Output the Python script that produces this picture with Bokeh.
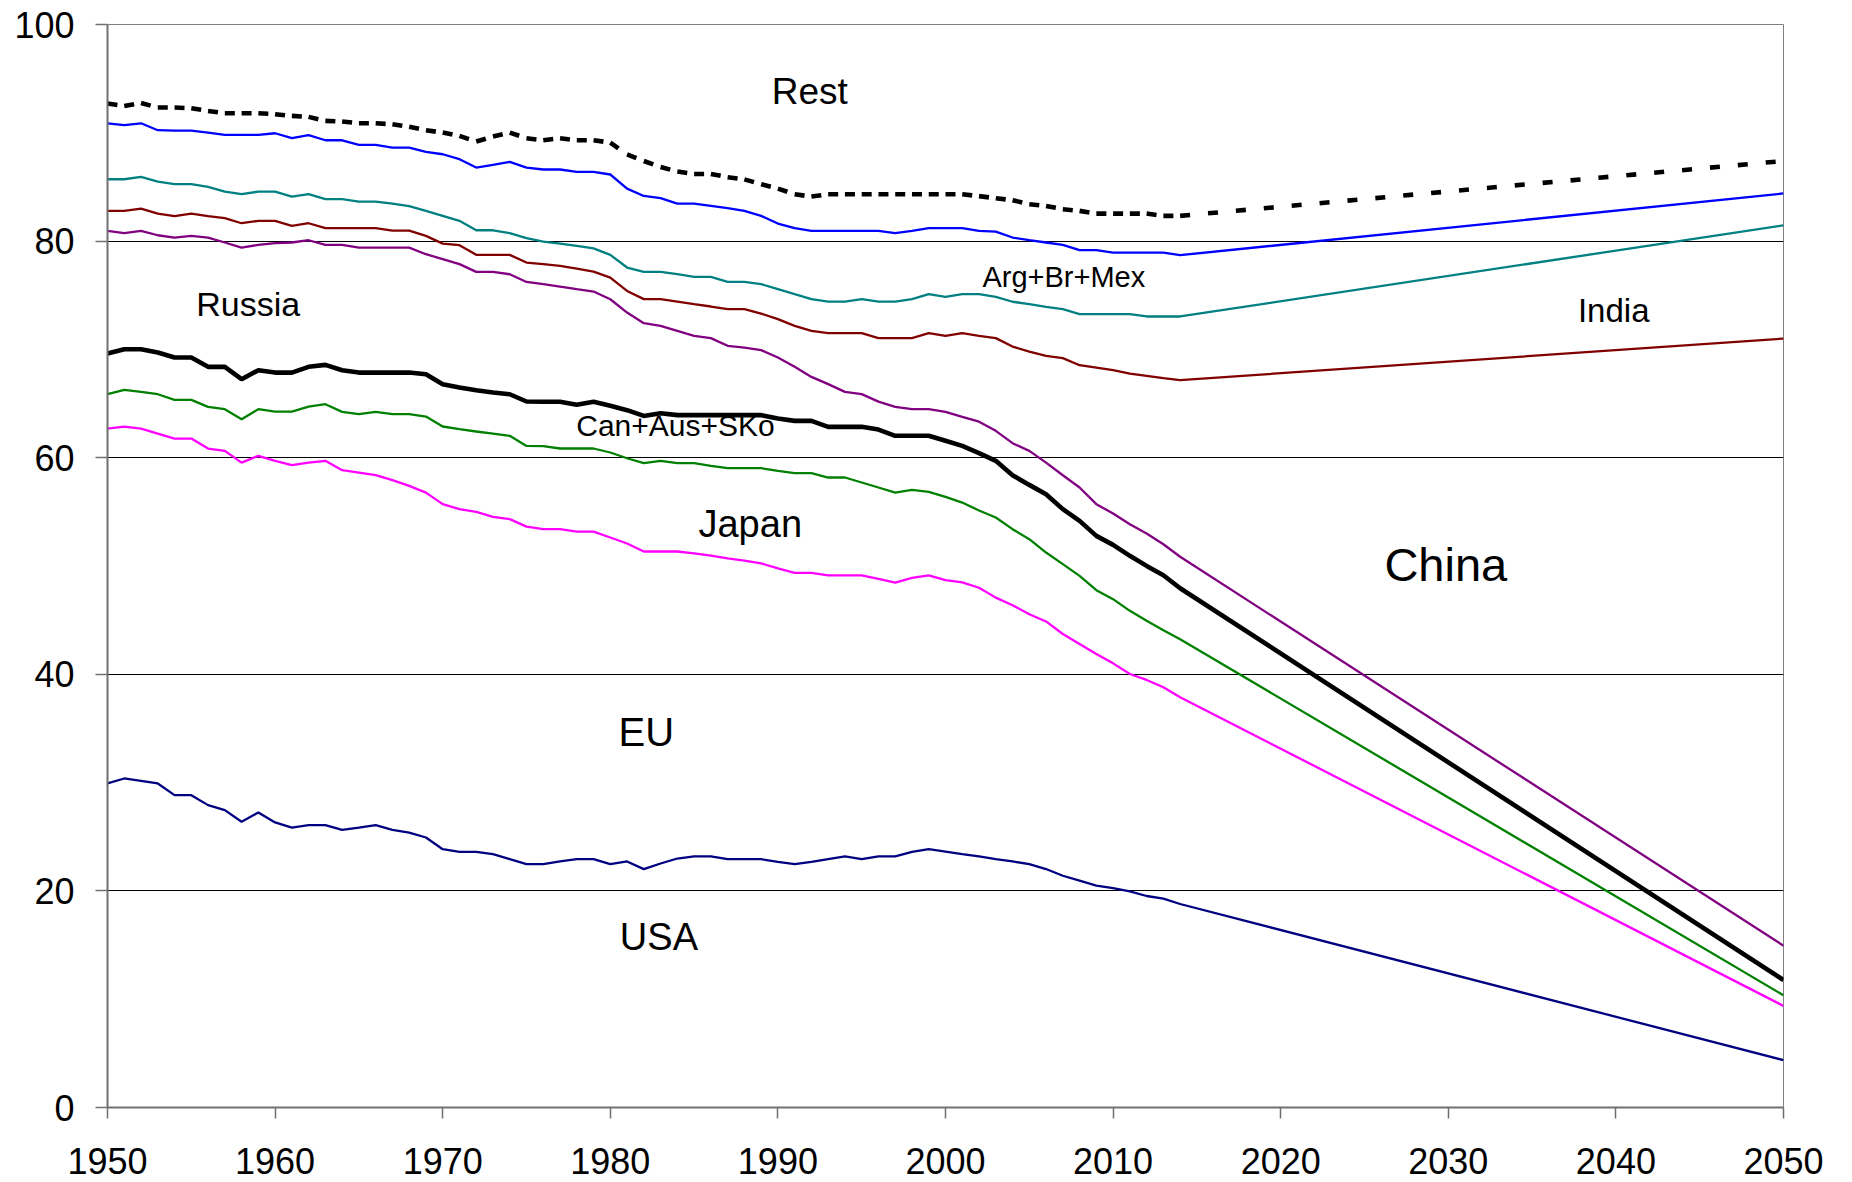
from bokeh.plotting import figure
from bokeh.models import Range1d, FixedTicker, Label, ColumnDataSource
from bokeh.embed import file_html
from bokeh.resources import INLINE

# ---------------- data ----------------
hist_years = list(range(1950, 2015))
target_year = [2050]
years = hist_years + target_year

# cumulative shares (%), top boundary of each band; last value = 2050
rest_boundary = [92.70, 92.48, 92.75, 92.33, 92.33, 92.27, 92.02, 91.81, 91.81, 91.81,
                 91.72, 91.56, 91.47, 91.10, 91.04, 90.88, 90.88, 90.79, 90.55, 90.24,
                 90.02, 89.71, 89.19, 89.65, 90.02, 89.50, 89.31, 89.50, 89.31, 89.31,
                 89.10, 88.00, 87.40, 86.85, 86.42, 86.20, 86.20, 85.90, 85.70, 85.25,
                 84.85, 84.33, 84.11, 84.33, 84.33, 84.33, 84.33, 84.33, 84.33, 84.33,
                 84.33, 84.33, 84.15, 83.96, 83.78, 83.41, 83.25, 82.94, 82.79, 82.54,
                 82.54, 82.54, 82.54, 82.33, 82.33,
                 87.40]
blue_line = [90.88, 90.70, 90.88, 90.24, 90.21, 90.21, 90.02, 89.81, 89.81, 89.81,
             89.96, 89.50, 89.78, 89.31, 89.31, 88.88, 88.88, 88.64, 88.64, 88.24,
             88.02, 87.56, 86.79, 87.04, 87.31, 86.79, 86.61, 86.61, 86.40, 86.40,
             86.15, 84.85, 84.17, 83.96, 83.46, 83.46, 83.25, 83.04, 82.79, 82.33,
             81.62, 81.19, 80.94, 80.94, 80.94, 80.94, 80.94, 80.73, 80.94, 81.19,
             81.19, 81.19, 80.94, 80.87, 80.33, 80.09, 79.87, 79.65, 79.16, 79.16,
             78.94, 78.94, 78.94, 78.94, 78.70,
             84.40]
teal_line = [85.71, 85.71, 85.93, 85.50, 85.26, 85.26, 85.00, 84.57, 84.33, 84.57,
             84.57, 84.11, 84.33, 83.87, 83.87, 83.65, 83.65, 83.46, 83.22, 82.79,
             82.33, 81.87, 81.00, 81.00, 80.73, 80.27, 79.96, 79.77, 79.56, 79.33,
             78.73, 77.56, 77.16, 77.16, 76.95, 76.70, 76.70, 76.24, 76.24, 76.03,
             75.57, 75.10, 74.64, 74.42, 74.42, 74.64, 74.42, 74.42, 74.64, 75.10,
             74.85, 75.10, 75.10, 74.85, 74.40, 74.18, 73.93, 73.72, 73.26, 73.26,
             73.26, 73.26, 73.04, 73.04, 73.04,
             81.46]
red_line = [82.79, 82.79, 83.00, 82.54, 82.30, 82.54, 82.30, 82.12, 81.65, 81.87,
            81.87, 81.41, 81.65, 81.19, 81.19, 81.19, 81.19, 80.97, 80.97, 80.48,
            79.77, 79.62, 78.73, 78.73, 78.73, 78.02, 77.87, 77.71, 77.46, 77.18,
            76.63, 75.40, 74.64, 74.64, 74.42, 74.18, 73.96, 73.72, 73.72, 73.31,
            72.79, 72.17, 71.71, 71.50, 71.50, 71.50, 71.04, 71.04, 71.04, 71.50,
            71.25, 71.50, 71.25, 71.04, 70.26, 69.80, 69.40, 69.19, 68.54, 68.32,
            68.08, 67.77, 67.56, 67.34, 67.16,
            71.00]
purple_line = [80.94, 80.73, 80.94, 80.54, 80.33, 80.48, 80.33, 79.87, 79.40, 79.65,
               79.81, 79.87, 80.08, 79.65, 79.65, 79.40, 79.40, 79.40, 79.40, 78.79,
               78.33, 77.87, 77.16, 77.16, 76.94, 76.23, 76.03, 75.80, 75.56, 75.34,
               74.63, 73.40, 72.42, 72.17, 71.71, 71.25, 71.04, 70.33, 70.17, 69.93,
               69.25, 68.39, 67.46, 66.79, 66.08, 65.87, 65.18, 64.69, 64.48, 64.48,
               64.23, 63.77, 63.33, 62.48, 61.34, 60.63, 59.55, 58.38, 57.25, 55.71,
               54.85, 53.86, 53.00, 52.01, 50.85,
               14.94]
black_line = [69.62, 70.02, 70.02, 69.71, 69.25, 69.25, 68.39, 68.39, 67.25, 68.08,
              67.86, 67.86, 68.39, 68.57, 68.08, 67.86, 67.86, 67.86, 67.86, 67.71,
              66.79, 66.48, 66.23, 66.02, 65.86, 65.19, 65.16, 65.16, 64.88, 65.16,
              64.79, 64.39, 63.86, 64.11, 63.93, 63.93, 63.93, 63.93, 63.93, 63.93,
              63.62, 63.40, 63.40, 62.85, 62.85, 62.85, 62.60, 62.02, 62.02, 62.02,
              61.56, 61.09, 60.43, 59.71, 58.38, 57.49, 56.63, 55.25, 54.17, 52.78,
              51.95, 50.94, 50.01, 49.15, 47.95,
              11.77]
green_line = [65.86, 66.26, 66.08, 65.86, 65.34, 65.34, 64.69, 64.48, 63.56, 64.48,
              64.26, 64.26, 64.72, 64.94, 64.23, 64.02, 64.23, 64.02, 64.02, 63.80,
              62.88, 62.63, 62.42, 62.23, 62.02, 61.09, 61.06, 60.85, 60.85, 60.85,
              60.48, 59.95, 59.49, 59.71, 59.49, 59.49, 59.25, 59.03, 59.03, 59.03,
              58.79, 58.57, 58.57, 58.17, 58.17, 57.71, 57.25, 56.78, 57.03, 56.85,
              56.38, 55.86, 55.12, 54.48, 53.40, 52.48, 51.24, 50.17, 49.09, 47.77,
              46.94, 45.86, 44.94, 44.07, 43.24,
              10.36]
magenta_line = [62.69, 62.87, 62.69, 62.23, 61.77, 61.77, 60.84, 60.63, 59.55, 60.17,
                59.71, 59.31, 59.55, 59.71, 58.85, 58.63, 58.39, 57.93, 57.40, 56.78,
                55.71, 55.25, 55.00, 54.54, 54.33, 53.64, 53.40, 53.40, 53.18, 53.18,
                52.63, 52.08, 51.34, 51.34, 51.34, 51.16, 50.95, 50.70, 50.49, 50.24,
                49.78, 49.36, 49.36, 49.14, 49.14, 49.14, 48.80, 48.47, 48.90, 49.14,
                48.70, 48.48, 47.99, 47.08, 46.38, 45.55, 44.88, 43.72, 42.80, 41.88,
                41.01, 40.03, 39.48, 38.80, 37.88,
                9.38]
navy_line = [29.92, 30.38, 30.16, 29.92, 28.84, 28.84, 27.92, 27.46, 26.38, 27.24,
             26.32, 25.85, 26.07, 26.07, 25.64, 25.85, 26.07, 25.64, 25.39, 24.93,
             23.85, 23.61, 23.61, 23.39, 22.93, 22.47, 22.47, 22.72, 22.93, 22.93,
             22.47, 22.72, 22.01, 22.53, 22.99, 23.18, 23.18, 22.93, 22.93, 22.93,
             22.68, 22.47, 22.68, 22.93, 23.18, 22.93, 23.18, 23.18, 23.61, 23.85,
             23.63, 23.40, 23.18, 22.94, 22.72, 22.48, 22.02, 21.40, 20.94, 20.48,
             20.26, 19.95, 19.53, 19.28, 18.79,
             4.37]

x_ticks = list(range(1950, 2051, 10))
y_ticks = [0, 20, 40, 60, 80, 100]
band_names = ["Rest", "Russia", "Arg+Br+Mex", "India", "China",
              "Can+Aus+SKo", "Japan", "EU", "USA"]

# ---------------- layout / style ----------------
FONT = "Liberation Sans"
label_place = {  # annotation placement (x year, y value, font px)
    "Rest": (1991.9, 93.8, 37),
    "Russia": (1958.4, 74.2, 34),
    "Arg+Br+Mex": (2007.06, 76.7, 29),
    "India": (2039.87, 73.6, 33),
    "China": (2029.85, 50.1, 47),
    "Can+Aus+SKo": (1983.89, 63.0, 30),
    "Japan": (1988.35, 53.9, 38),
    "EU": (1982.15, 34.7, 40),
    "USA": (1982.9, 15.75, 38),
}

p = figure(frame_width=1676, frame_height=1083,
           x_range=Range1d(1950, 2050), y_range=Range1d(0, 100),
           output_backend="svg", toolbar_location=None,
           min_border_left=107, min_border_right=50, min_border_top=24,
           min_border_bottom=75,
           background_fill_color="white", border_fill_color="white")

p.outline_line_color = "#808080"
p.outline_line_width = 1
p.xgrid.visible = False
p.ygrid.ticker = FixedTicker(ticks=[20, 40, 60, 80])
p.ygrid.grid_line_color = "#000000"
p.ygrid.grid_line_width = 1

for ax, ticks, tick_out, standoff in ((p.xaxis, x_ticks, 11, 29), (p.yaxis, y_ticks, 12, 21)):
    ax.ticker = FixedTicker(ticks=ticks)
    ax.axis_line_color = "#707070"
    ax.axis_line_width = 2
    ax.major_tick_line_color = "#707070"
    ax.major_tick_line_width = 1.5
    ax.major_tick_in = 0
    ax.major_tick_out = tick_out
    ax.minor_tick_line_color = None
    ax.major_label_text_font = FONT
    ax.major_label_text_font_size = "36px"
    ax.major_label_text_color = "#000000"
    ax.major_label_standoff = standoff

thin = 2.3
series = [
    (navy_line, "#000080", thin),
    (magenta_line, "#FF00FF", thin),
    (green_line, "#008000", thin),
    (purple_line, "#800080", thin),
    (red_line, "#800000", thin),
    (teal_line, "#008080", thin),
    (blue_line, "#0000FF", thin),
    (black_line, "#000000", 4.6),
]
for vals, col, w in series:
    p.line(years, vals, line_color=col, line_width=w)

# dashed top boundary: dash pattern restarts at every data point
seg = ColumnDataSource(dict(x0=years[:-1], x1=years[1:],
                            y0=rest_boundary[:-1], y1=rest_boundary[1:]))
p.segment(x0="x0", y0="y0", x1="x1", y1="y1", source=seg,
          line_color="#000000", line_width=4.6, line_dash="10 18")

for name in band_names:
    lx, ly, fs = label_place[name]
    p.add_layout(Label(x=lx, y=ly, text=name, text_font=FONT,
                       text_font_size=f"{fs}px", text_align="center",
                       text_baseline="alphabetic", text_color="#000000"))

open("out.html", "w").write(file_html(p, INLINE))
